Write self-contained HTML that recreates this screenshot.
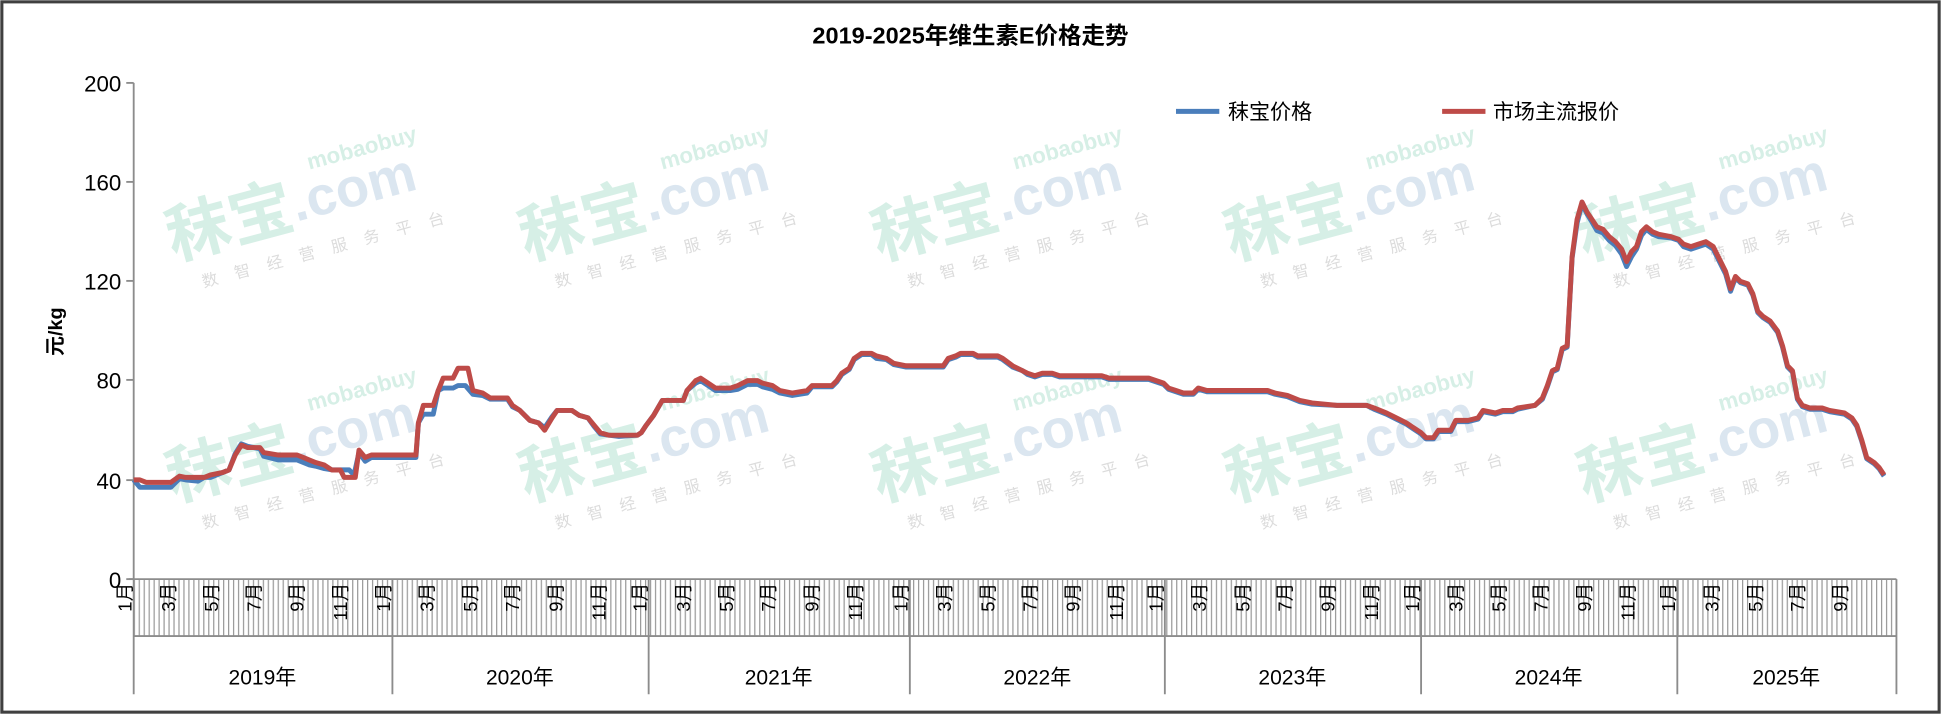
<!DOCTYPE html>
<html><head><meta charset="utf-8"><style>html,body{margin:0;padding:0;background:#fff}svg{display:block}</style></head>
<body>
<svg width="1941" height="714" viewBox="0 0 1568 577" preserveAspectRatio="none" xmlns="http://www.w3.org/2000/svg" font-family="Liberation Sans, Noto Sans CJK SC, sans-serif">
<defs>
<pattern id="tk" x="108" y="0" width="4.01" height="10" patternUnits="userSpaceOnUse"><rect x="0" y="0" width="1" height="10" fill="#9a9a9a"/></pattern>
</defs>
<rect x="0" y="0" width="1568" height="577" fill="#fff"/>
<rect x="1.5" y="1.5" width="1565" height="574" fill="none" stroke="#404040" stroke-width="2.5"/>
<text x="784" y="35" text-anchor="middle" font-size="19" font-weight="bold" fill="#000">2019-2025年维生素E价格走势</text>

<!-- watermarks -->
<g font-weight="bold">
<g transform="translate(140,210) rotate(-15)"><text font-size="52" fill="#d6efe6">秣宝</text><text x="104" y="-4" font-size="44" fill="#dbe6f0">.com</text><text x="125" y="-42" font-size="18" fill="#d6efe6">mobaobuy</text><text x="18" y="28" font-size="13" font-weight="normal" fill="#dcdcdc" letter-spacing="14">数智经营服务平台</text></g>
<g transform="translate(425,210) rotate(-15)"><text font-size="52" fill="#d6efe6">秣宝</text><text x="104" y="-4" font-size="44" fill="#dbe6f0">.com</text><text x="125" y="-42" font-size="18" fill="#d6efe6">mobaobuy</text><text x="18" y="28" font-size="13" font-weight="normal" fill="#dcdcdc" letter-spacing="14">数智经营服务平台</text></g>
<g transform="translate(710,210) rotate(-15)"><text font-size="52" fill="#d6efe6">秣宝</text><text x="104" y="-4" font-size="44" fill="#dbe6f0">.com</text><text x="125" y="-42" font-size="18" fill="#d6efe6">mobaobuy</text><text x="18" y="28" font-size="13" font-weight="normal" fill="#dcdcdc" letter-spacing="14">数智经营服务平台</text></g>
<g transform="translate(995,210) rotate(-15)"><text font-size="52" fill="#d6efe6">秣宝</text><text x="104" y="-4" font-size="44" fill="#dbe6f0">.com</text><text x="125" y="-42" font-size="18" fill="#d6efe6">mobaobuy</text><text x="18" y="28" font-size="13" font-weight="normal" fill="#dcdcdc" letter-spacing="14">数智经营服务平台</text></g>
<g transform="translate(1280,210) rotate(-15)"><text font-size="52" fill="#d6efe6">秣宝</text><text x="104" y="-4" font-size="44" fill="#dbe6f0">.com</text><text x="125" y="-42" font-size="18" fill="#d6efe6">mobaobuy</text><text x="18" y="28" font-size="13" font-weight="normal" fill="#dcdcdc" letter-spacing="14">数智经营服务平台</text></g>
<g transform="translate(140,405) rotate(-15)"><text font-size="52" fill="#d6efe6">秣宝</text><text x="104" y="-4" font-size="44" fill="#dbe6f0">.com</text><text x="125" y="-42" font-size="18" fill="#d6efe6">mobaobuy</text><text x="18" y="28" font-size="13" font-weight="normal" fill="#dcdcdc" letter-spacing="14">数智经营服务平台</text></g>
<g transform="translate(425,405) rotate(-15)"><text font-size="52" fill="#d6efe6">秣宝</text><text x="104" y="-4" font-size="44" fill="#dbe6f0">.com</text><text x="125" y="-42" font-size="18" fill="#d6efe6">mobaobuy</text><text x="18" y="28" font-size="13" font-weight="normal" fill="#dcdcdc" letter-spacing="14">数智经营服务平台</text></g>
<g transform="translate(710,405) rotate(-15)"><text font-size="52" fill="#d6efe6">秣宝</text><text x="104" y="-4" font-size="44" fill="#dbe6f0">.com</text><text x="125" y="-42" font-size="18" fill="#d6efe6">mobaobuy</text><text x="18" y="28" font-size="13" font-weight="normal" fill="#dcdcdc" letter-spacing="14">数智经营服务平台</text></g>
<g transform="translate(995,405) rotate(-15)"><text font-size="52" fill="#d6efe6">秣宝</text><text x="104" y="-4" font-size="44" fill="#dbe6f0">.com</text><text x="125" y="-42" font-size="18" fill="#d6efe6">mobaobuy</text><text x="18" y="28" font-size="13" font-weight="normal" fill="#dcdcdc" letter-spacing="14">数智经营服务平台</text></g>
<g transform="translate(1280,405) rotate(-15)"><text font-size="52" fill="#d6efe6">秣宝</text><text x="104" y="-4" font-size="44" fill="#dbe6f0">.com</text><text x="125" y="-42" font-size="18" fill="#d6efe6">mobaobuy</text><text x="18" y="28" font-size="13" font-weight="normal" fill="#dcdcdc" letter-spacing="14">数智经营服务平台</text></g>
</g>

<!-- y axis -->
<g stroke="#8c8c8c" stroke-width="1.5">
<line x1="108" y1="67" x2="108" y2="468"/>
<line x1="102" y1="67" x2="108" y2="67"/><line x1="102" y1="147" x2="108" y2="147"/><line x1="102" y1="227" x2="108" y2="227"/><line x1="102" y1="307" x2="108" y2="307"/><line x1="102" y1="388" x2="108" y2="388"/><line x1="102" y1="468" x2="108" y2="468"/>
</g>
<g font-size="18" text-anchor="end" fill="#000">
<text x="98" y="74">200</text><text x="98" y="154">160</text><text x="98" y="234">120</text><text x="98" y="314">80</text><text x="98" y="395">40</text><text x="98" y="475">0</text>
</g>
<text transform="translate(50,268) rotate(-90)" text-anchor="middle" font-size="16" font-weight="bold">元/kg</text>

<!-- x axis -->
<rect x="108" y="468" width="1424" height="46" fill="url(#tk)"/>
<g stroke="#8c8c8c" stroke-width="1.5">
<line x1="104" y1="468" x2="1532" y2="468"/>
<line x1="108" y1="514" x2="1532" y2="514"/>
<line x1="108" y1="468" x2="108" y2="561"/><line x1="317" y1="468" x2="317" y2="561"/><line x1="524" y1="468" x2="524" y2="561"/><line x1="735" y1="468" x2="735" y2="561"/><line x1="941" y1="468" x2="941" y2="561"/><line x1="1148" y1="468" x2="1148" y2="561"/><line x1="1355" y1="468" x2="1355" y2="561"/><line x1="1532" y1="468" x2="1532" y2="561"/>
</g>
<g font-size="15" text-anchor="end" fill="#000">
<text transform="translate(101,471) rotate(-90)" dy="0.35em">1月</text><text transform="translate(136,471) rotate(-90)" dy="0.35em">3月</text><text transform="translate(171,471) rotate(-90)" dy="0.35em">5月</text><text transform="translate(205,471) rotate(-90)" dy="0.35em">7月</text><text transform="translate(240,471) rotate(-90)" dy="0.35em">9月</text><text transform="translate(275,471) rotate(-90)" dy="0.35em">11月</text>
<text transform="translate(310,471) rotate(-90)" dy="0.35em">1月</text><text transform="translate(345,471) rotate(-90)" dy="0.35em">3月</text><text transform="translate(380,471) rotate(-90)" dy="0.35em">5月</text><text transform="translate(414,471) rotate(-90)" dy="0.35em">7月</text><text transform="translate(449,471) rotate(-90)" dy="0.35em">9月</text><text transform="translate(484,471) rotate(-90)" dy="0.35em">11月</text>
<text transform="translate(517,471) rotate(-90)" dy="0.35em">1月</text><text transform="translate(552,471) rotate(-90)" dy="0.35em">3月</text><text transform="translate(587,471) rotate(-90)" dy="0.35em">5月</text><text transform="translate(621,471) rotate(-90)" dy="0.35em">7月</text><text transform="translate(656,471) rotate(-90)" dy="0.35em">9月</text><text transform="translate(691,471) rotate(-90)" dy="0.35em">11月</text>
<text transform="translate(728,471) rotate(-90)" dy="0.35em">1月</text><text transform="translate(763,471) rotate(-90)" dy="0.35em">3月</text><text transform="translate(798,471) rotate(-90)" dy="0.35em">5月</text><text transform="translate(832,471) rotate(-90)" dy="0.35em">7月</text><text transform="translate(867,471) rotate(-90)" dy="0.35em">9月</text><text transform="translate(902,471) rotate(-90)" dy="0.35em">11月</text>
<text transform="translate(934,471) rotate(-90)" dy="0.35em">1月</text><text transform="translate(969,471) rotate(-90)" dy="0.35em">3月</text><text transform="translate(1004,471) rotate(-90)" dy="0.35em">5月</text><text transform="translate(1038,471) rotate(-90)" dy="0.35em">7月</text><text transform="translate(1073,471) rotate(-90)" dy="0.35em">9月</text><text transform="translate(1108,471) rotate(-90)" dy="0.35em">11月</text>
<text transform="translate(1141,471) rotate(-90)" dy="0.35em">1月</text><text transform="translate(1176,471) rotate(-90)" dy="0.35em">3月</text><text transform="translate(1211,471) rotate(-90)" dy="0.35em">5月</text><text transform="translate(1245,471) rotate(-90)" dy="0.35em">7月</text><text transform="translate(1280,471) rotate(-90)" dy="0.35em">9月</text><text transform="translate(1315,471) rotate(-90)" dy="0.35em">11月</text>
<text transform="translate(1348,471) rotate(-90)" dy="0.35em">1月</text><text transform="translate(1383,471) rotate(-90)" dy="0.35em">3月</text><text transform="translate(1418,471) rotate(-90)" dy="0.35em">5月</text><text transform="translate(1452,471) rotate(-90)" dy="0.35em">7月</text><text transform="translate(1487,471) rotate(-90)" dy="0.35em">9月</text>
</g>
<g font-size="17" text-anchor="middle" fill="#000">
<text x="212" y="553">2019年</text><text x="420" y="553">2020年</text><text x="629" y="553">2021年</text><text x="838" y="553">2022年</text><text x="1044" y="553">2023年</text><text x="1251" y="553">2024年</text><text x="1443" y="553">2025年</text>
</g>

<!-- legend -->
<line x1="950" y1="90" x2="985" y2="90" stroke="#4a7ebb" stroke-width="4"/>
<text x="992" y="96" font-size="17">秣宝价格</text>
<line x1="1165" y1="90" x2="1200" y2="90" stroke="#be4b48" stroke-width="4"/>
<text x="1206" y="96" font-size="17">市场主流报价</text>

<!-- series -->
<polyline fill="none" stroke="#4a7ebb" stroke-width="4" stroke-linejoin="round" points="108,387.8 113,393.8 118,393.8 138,393.8 145,386.8 150,387.8 160,388.8 165,385.8 170,385.8 180,381.8 185,379.8 190,366.7 195,358.7 200,360.7 210,362.7 213,368.7 225,371.7 240,371.7 245,373.7 250,375.7 255,376.7 262,378.7 268,379.7 282,379.7 286,383.8 290,365.7 295,372.7 300,369.7 336,369.7 338,341.7 342,334.7 350,334.7 354,315.6 358,313.6 366,313.6 370,311.6 376,311.6 382,318.6 390,319.6 396,322.6 410,322.6 414,328.7 420,331.7 428,339.7 435,341.7 440,345.7 446,336.7 450,331.7 462,331.7 468,335.7 475,337.7 480,344.7 485,350.7 492,351.7 500,352.7 515,351.7 518,349.7 522,343.7 528,335.7 535,323.6 552,323.6 555,315.6 562,309.6 566,307.6 572,311.6 578,315.6 590,315.6 596,314.6 604,310.6 612,310.6 616,312.6 624,314.6 630,317.6 640,319.6 652,317.6 656,312.6 672,312.6 676,308.6 680,302.6 686,298.6 690,290.6 696,286.5 704,286.5 708,289.6 716,290.6 722,294.6 732,296.6 740,296.6 762,296.6 766,290.6 772,288.6 776,286.5 786,286.5 790,288.6 806,288.6 810,290.6 818,296.6 826,299.6 830,302.6 836,304.6 842,302.6 850,302.6 856,304.6 890,304.6 896,306.6 928,306.6 934,308.6 940,310.6 944,314.6 950,316.6 956,318.6 964,318.6 968,314.6 975,316.6 1024,316.6 1030,318.6 1040,320.6 1050,324.6 1060,326.6 1080,327.6 1104,327.6 1110,330.7 1120,334.7 1128,338.7 1136,342.7 1142,346.7 1148,350.7 1152,354.7 1158,354.7 1162,348.7 1172,348.7 1176,340.7 1186,340.7 1194,338.7 1198,332.7 1208,334.7 1214,332.7 1222,332.7 1226,330.7 1240,327.6 1246,322.6 1250,312.6 1254,300.6 1258,298.6 1262,282.5 1266,280.5 1270,208.4 1274,180.3 1278,164.8 1282,172.8 1286,179.3 1290,186.3 1295,188.3 1300,194.3 1305,198.3 1310,205.3 1314,215.4 1318,207.4 1322,201.3 1326,190.3 1330,185.3 1335,189.3 1340,191.3 1350,192.3 1356,194.3 1360,199.3 1366,201.3 1372,199.3 1378,197.3 1384,201.3 1388,209.4 1394,221.4 1398,235.4 1402,224.4 1406,228.4 1412,230.4 1416,238.4 1420,252.5 1424,256.5 1430,260.5 1436,268.5 1440,280.5 1444,296.6 1448,300.6 1452,322.6 1456,328.6 1462,330.7 1472,330.7 1478,332.7 1490,334.7 1496,338.7 1500,344.7 1504,356.7 1508,370.7 1514,374.7 1518,378.7 1522,384.8"/>
<polyline fill="none" stroke="#be4b48" stroke-width="4" stroke-linejoin="round" points="108,387.8 113,387.8 118,389.8 138,389.8 145,384.8 150,385.8 165,385.8 170,383.8 180,381.8 185,379.8 190,367.8 195,359.7 200,361.7 210,361.7 213,365.7 225,367.7 240,367.7 245,369.7 250,371.8 255,373.8 262,375.8 268,379.8 275,379.8 278,385.8 287,385.8 290,363.7 295,369.7 300,367.7 336,367.7 338,341.7 342,327.6 350,327.6 354,315.6 358,305.6 366,305.6 370,297.6 378,297.6 382,315.6 390,317.6 396,321.6 410,321.6 414,327.6 420,331.7 428,339.7 435,341.7 440,347.7 446,337.7 450,331.7 462,331.7 468,335.7 475,337.7 480,343.7 485,349.7 492,351.7 500,351.7 515,351.7 518,349.7 522,343.7 528,335.7 535,323.6 552,323.6 555,315.6 562,307.6 566,305.6 572,309.6 578,313.6 590,313.6 596,311.6 604,307.6 612,307.6 616,309.6 624,311.6 630,315.6 640,317.6 652,315.6 656,311.6 672,311.6 676,307.6 680,301.6 686,297.6 690,289.6 696,285.5 704,285.5 708,287.6 716,289.6 722,293.6 732,295.6 740,295.6 762,295.6 766,289.6 772,287.6 776,285.5 786,285.5 790,287.6 806,287.6 810,289.6 818,295.6 826,299.6 830,301.6 836,303.6 842,301.6 850,301.6 856,303.6 890,303.6 896,305.6 928,305.6 934,307.6 940,309.6 944,313.6 950,315.6 956,317.6 964,317.6 968,313.6 975,315.6 1024,315.6 1030,317.6 1040,319.6 1050,323.6 1060,325.6 1080,327.6 1104,327.6 1110,329.7 1120,333.7 1128,337.7 1136,341.7 1142,345.7 1148,349.7 1152,353.7 1158,353.7 1162,347.7 1172,347.7 1176,339.7 1186,339.7 1194,337.7 1198,331.7 1208,333.7 1214,331.7 1222,331.7 1226,329.7 1240,327.6 1246,321.6 1250,311.6 1254,299.6 1258,297.6 1262,281.5 1266,279.5 1270,207.4 1274,177.3 1278,163.2 1282,171.3 1286,177.3 1290,183.3 1295,185.3 1300,191.3 1305,195.3 1310,201.3 1314,211.4 1318,203.3 1322,199.3 1326,187.3 1330,183.3 1335,187.3 1340,189.3 1350,191.3 1356,193.3 1360,197.3 1366,199.3 1372,197.3 1378,195.3 1384,199.3 1388,207.4 1394,219.4 1398,233.4 1402,223.4 1406,227.4 1412,229.4 1416,237.4 1420,251.5 1424,255.5 1430,259.5 1436,267.5 1440,279.5 1444,295.6 1448,299.6 1452,321.6 1456,327.6 1462,329.7 1472,329.7 1478,331.7 1490,333.7 1496,337.7 1500,343.7 1504,355.7 1508,369.8 1514,373.8 1518,377.8 1522,383.8"/>
</svg>
</body></html>
